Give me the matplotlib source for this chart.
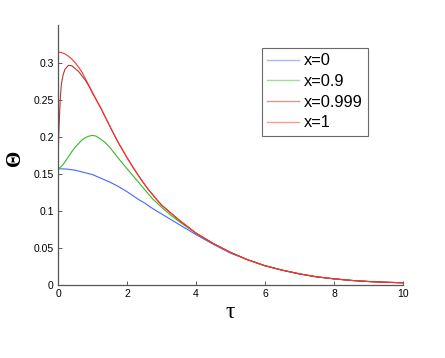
import matplotlib
matplotlib.use("Agg")
import matplotlib.pyplot as plt
from matplotlib.lines import Line2D

# --- data ---
tau_x0 = [0, 0.25, 0.5, 0.75, 1.0, 1.25, 1.5, 1.75, 2.0, 2.35, 2.5, 2.75, 3.0, 3.25, 3.5, 3.75, 4.0, 4.5, 5.0, 5.5, 6.0, 6.5, 7.0, 7.5, 8.0, 8.5, 9.0, 9.5, 10.0]
theta_x0 = [0.157, 0.1565, 0.155, 0.152, 0.149, 0.144, 0.139, 0.133, 0.126, 0.115, 0.111, 0.103, 0.096, 0.089, 0.082, 0.075, 0.068, 0.055, 0.043, 0.034, 0.026, 0.020, 0.015, 0.011, 0.0083, 0.0062, 0.0047, 0.0037, 0.003]

tau_x09 = [0, 0.1, 0.2, 0.3, 0.4, 0.5, 0.6, 0.7, 0.8, 0.9, 1.0, 1.1, 1.2, 1.35, 1.5, 1.75, 2.0, 2.2, 2.4, 2.6, 2.75, 3.0, 3.25, 3.5, 3.75, 4.0, 4.5, 5.0, 5.5, 6.0, 6.5, 7.0, 7.5, 8.0, 8.5, 9.0, 9.5, 10.0]
theta_x09 = [0.157, 0.160, 0.166, 0.173, 0.180, 0.186, 0.191, 0.196, 0.199, 0.201, 0.202, 0.201, 0.198, 0.193, 0.186, 0.171, 0.157, 0.146, 0.135, 0.124, 0.116, 0.105, 0.095, 0.086, 0.078, 0.070, 0.056, 0.044, 0.034, 0.026, 0.020, 0.015, 0.011, 0.0083, 0.0062, 0.0047, 0.0037, 0.003]

tau_x0999 = [0, 0.01, 0.02, 0.04, 0.07, 0.1, 0.15, 0.2, 0.3, 0.4, 0.5, 0.6, 0.7, 0.8, 0.9, 1.0, 1.25, 1.55, 1.75, 2.0, 2.2, 2.4, 2.6, 2.85, 3.0, 3.25, 3.5, 3.75, 4.0, 4.5, 5.0, 5.5, 6.0, 6.5, 7.0, 7.5, 8.0, 8.5, 9.0, 9.5, 10.0]
theta_x0999 = [0.157, 0.18, 0.2, 0.225, 0.255, 0.272, 0.284, 0.291, 0.2965, 0.296, 0.292, 0.288, 0.282, 0.276, 0.268, 0.259, 0.238, 0.21, 0.192, 0.172, 0.157, 0.143, 0.130, 0.116, 0.108, 0.098, 0.088, 0.079, 0.070, 0.056, 0.044, 0.034, 0.026, 0.020, 0.015, 0.011, 0.0083, 0.0062, 0.0047, 0.0037, 0.003]

tau_x1 = [0, 0.1, 0.2, 0.3, 0.4, 0.5, 0.6, 0.7, 0.8, 0.9, 1.0, 1.25, 1.55, 1.75, 2.0, 2.2, 2.4, 2.6, 2.85, 3.0, 3.25, 3.5, 3.75, 4.0, 4.5, 5.0, 5.5, 6.0, 6.5, 7.0, 7.5, 8.0, 8.5, 9.0, 9.5, 10.0]
theta_x1 = [0.3145, 0.3138, 0.312, 0.309, 0.305, 0.300, 0.294, 0.287, 0.278, 0.269, 0.260, 0.238, 0.21, 0.192, 0.172, 0.157, 0.143, 0.130, 0.116, 0.108, 0.098, 0.088, 0.079, 0.070, 0.056, 0.044, 0.034, 0.026, 0.020, 0.015, 0.011, 0.0083, 0.0062, 0.0047, 0.0037, 0.003]

labels = ["x=0", "x=0.9", "x=0.999", "x=1"]
xticks = [0, 2, 4, 6, 8, 10]
yticks = [0, 0.05, 0.1, 0.15, 0.2, 0.25, 0.3]
ytick_labels = ["0", "0.05", "0.1", "0.15", "0.2", "0.25", "0.3"]

plt.rcParams['font.family'] = ['Liberation Sans', 'DejaVu Sans']

fig = plt.figure(figsize=(4.45, 3.58), dpi=100)
ax = fig.add_axes([58/445, 1-285/358, (403-58)/445, (285-25)/358])

lw = 0.8
colors = ['#4466ff', '#33bb22', '#b03a30', '#ff3030']
legend_colors = ['#a8b8ff', '#a0dd98', '#d49a94', '#ff9a9a']
ax.plot(tau_x0, theta_x0, color=colors[0], lw=lw)
ax.plot(tau_x09, theta_x09, color=colors[1], lw=lw)
ax.plot(tau_x0999, theta_x0999, color=colors[2], lw=lw)
ax.plot(tau_x1, theta_x1, color=colors[3], lw=lw)

ax.set_xlim(0, 10)
ax.set_ylim(0, 0.351)
ax.set_xticks(xticks)
ax.set_xticklabels([str(t) for t in xticks])
ax.set_yticks(yticks)
ax.set_yticklabels(ytick_labels)
ax.tick_params(direction='in', length=3, width=0.6, labelsize=7.5, color='#444444', pad=3)
for s in ['top', 'right']:
    ax.spines[s].set_visible(False)
for s in ['left', 'bottom']:
    ax.spines[s].set_color('#555555')
    ax.spines[s].set_linewidth(0.9)

ax.set_xlabel('τ', fontsize=17, family=['Liberation Serif', 'DejaVu Serif'], labelpad=2)
ax.set_ylabel('Θ', fontsize=15, family=['Liberation Serif', 'DejaVu Serif'], fontweight='bold',
              va='center', ha='center')
ax.yaxis.set_label_coords(-0.125, 0.488)

handles = [Line2D([], [], color=c, lw=1.0) for c in legend_colors]
leg = ax.legend(handles, labels, loc='upper left', bbox_to_anchor=(262/445, 1-48/358), bbox_transform=fig.transFigure,
                fontsize=11.8, frameon=True, fancybox=False, handlelength=1.95, handletextpad=0.3,
                labelspacing=0.35, borderpad=0.32, borderaxespad=0)
leg.get_frame().set_edgecolor('#444444')
leg.get_frame().set_linewidth(0.8)

fig.savefig('out.png', dpi=100)
